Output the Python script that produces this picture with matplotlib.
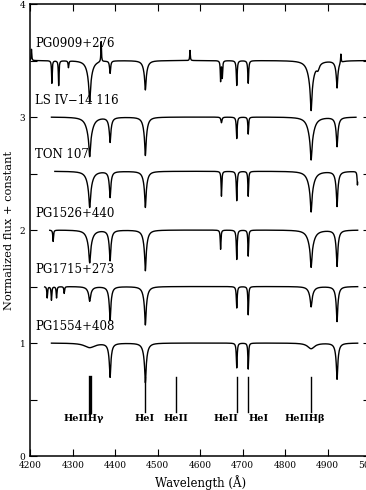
import numpy as np
import matplotlib
matplotlib.use("Agg")
import matplotlib.pyplot as plt
from matplotlib.ticker import MultipleLocator

plt.rcParams["font.family"] = ["DejaVu Serif"]

stars = ["PG0909+276", "LS IV\u221214 116", "TON 107", "PG1526+440", "PG1715+273", "PG1554+408"]
offsets = [3.5, 3.0, 2.52, 2.0, 1.5, 1.0]
wave_start = [4200, 4250, 4258, 4246, 4234, 4250]
wave_end = [4999, 4967, 4971, 4971, 4971, 4971]

# absorption lines: centre (A), depth, half width (A)
# negative depth = emission spike
lines_pg0909 = [
    (4203, -0.10, 0.8), (4251, 0.20, 0.9), (4267, 0.22, 0.9), (4290, 0.06, 1.0),
    (4340, 0.20, 2.0), (4340, 0.16, 7.0), (4367, -0.18, 0.8), (4388, 0.11, 1.5),
    (4471, 0.14, 1.6), (4471, 0.12, 5.0), (4576, -0.09, 0.8), (4648, 0.18, 0.9),
    (4652, 0.15, 0.9), (4686, 0.22, 1.2), (4713, 0.20, 1.2), (4861, 0.24, 2.0),
    (4861, 0.20, 8.0), (4877, 0.05, 4.0), (4922, 0.14, 1.5), (4922, 0.10, 4.0),
    (4931, -0.08, 0.8),
]
lines_lsiv = [
    (4340, 0.18, 2.0), (4340, 0.17, 8.0), (4388, 0.12, 1.5), (4388, 0.10, 4.0),
    (4471, 0.18, 1.6), (4471, 0.16, 5.0), (4650, 0.05, 1.5), (4686, 0.19, 1.2),
    (4713, 0.15, 1.0), (4861, 0.19, 2.0), (4861, 0.19, 8.0), (4922, 0.14, 1.5),
    (4922, 0.12, 4.0),
]
lines_ton107 = [
    (4340, 0.17, 2.0), (4340, 0.15, 7.0), (4388, 0.13, 1.5), (4388, 0.10, 3.5),
    (4471, 0.18, 1.6), (4471, 0.14, 5.0), (4650, 0.22, 1.0), (4686, 0.26, 1.2),
    (4713, 0.22, 1.0), (4861, 0.20, 2.0), (4861, 0.16, 8.0), (4922, 0.18, 1.5),
    (4922, 0.13, 4.0), (4970, 0.12, 1.0),
]
lines_pg1526 = [
    (4254, 0.10, 1.0), (4340, 0.16, 2.0), (4340, 0.13, 7.0), (4388, 0.15, 1.5),
    (4388, 0.12, 4.0), (4471, 0.20, 1.6), (4471, 0.16, 5.0), (4648, 0.17, 1.0),
    (4686, 0.26, 1.2), (4713, 0.23, 1.0), (4861, 0.18, 2.0), (4861, 0.15, 8.0),
    (4922, 0.18, 1.5), (4922, 0.14, 4.0),
]
lines_pg1715 = [
    (4240, 0.10, 1.0), (4250, 0.12, 1.0), (4262, 0.10, 1.0), (4280, 0.06, 1.0),
    (4340, 0.08, 2.0), (4340, 0.05, 6.0), (4388, 0.17, 1.5), (4388, 0.13, 4.0),
    (4471, 0.19, 1.6), (4471, 0.15, 5.0), (4686, 0.19, 1.2), (4713, 0.25, 1.0),
    (4861, 0.10, 2.0), (4861, 0.08, 6.0), (4922, 0.18, 1.5), (4922, 0.13, 4.0),
]
lines_pg1554 = [
    (4340, 0.04, 15.0), (4388, 0.17, 1.5), (4388, 0.13, 4.0), (4471, 0.20, 1.6),
    (4471, 0.15, 5.0), (4686, 0.22, 1.2), (4713, 0.23, 1.0), (4861, 0.05, 10.0),
    (4922, 0.18, 1.5), (4922, 0.14, 4.0),
]
line_lists = [lines_pg0909, lines_lsiv, lines_ton107, lines_pg1526, lines_pg1715, lines_pg1554]

# line identifications at the bottom
id_waves = [4340, 4471, 4542, 4686, 4713, 4861]
id_widths = [2.4, 1.0, 1.0, 1.0, 1.0, 1.0]
id_labels = ["HeIIH\u03b3", "HeI", "HeII", "HeII", "HeI", "HeIIH\u03b2"]
id_label_pos = [4326, 4470, 4542, 4661, 4738, 4846]


def spectrum(lam, offset, lines):
    flux = np.full_like(lam, offset)
    for c, d, w in lines:
        flux -= d / (1.0 + ((lam - c) / w) ** 2)
    return flux


fig = plt.figure(figsize=(3.66, 4.90), dpi=100)
ax = fig.add_axes([30.2 / 366, 34 / 490, 340 / 366, 452 / 490])

for name, off, lo, hi, lines in zip(stars, offsets, wave_start, wave_end, line_lists):
    lam = np.arange(lo, hi, 0.5)
    ax.plot(lam, spectrum(lam, off, lines), color="black", lw=1.0)
    ax.text(4212, off + 0.15, name, fontsize=8.5, va="center", ha="left")

for w, lw in zip(id_waves, id_widths):
    ax.plot([w, w], [0.39, 0.70], color="black", lw=lw)
for lab, x in zip(id_labels, id_label_pos):
    ax.text(x, 0.33, lab, fontsize=7, fontweight="bold", ha="center", va="center")

ax.set_xlim(4200, 5000)
ax.set_ylim(0, 4)
ax.xaxis.set_major_locator(MultipleLocator(100))
ax.yaxis.set_major_locator(MultipleLocator(1))
ax.yaxis.set_minor_locator(MultipleLocator(0.5))
ax.tick_params(which="both", direction="in", top=True, right=True, length=5, width=0.8, labelsize=6.5)
for s in ax.spines.values():
    s.set_linewidth(1.1)

ax.set_xlabel("Wavelength (\u00c5)", fontsize=8.5, labelpad=4)
ax.set_ylabel("Normalized flux + constant", fontsize=8.2)
ax.yaxis.set_label_coords(-0.047, 0.5)

fig.savefig("out.png", dpi=100)
